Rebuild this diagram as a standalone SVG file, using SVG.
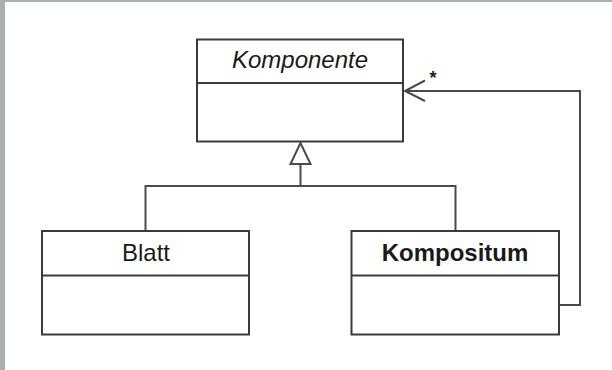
<svg xmlns="http://www.w3.org/2000/svg" width="612" height="370" viewBox="0 0 612 370">
  <style>
    .box { fill: #ffffff; stroke: #3a3a3a; stroke-width: 2; }
    .div { stroke: #3a3a3a; stroke-width: 2; fill: none; }
    .edge { stroke: #4a4a4a; stroke-width: 2; fill: none; }
    .lbl { font-family: "Liberation Sans", Arial, sans-serif; font-size: 24px; fill: #1a1a1a; text-anchor: middle; }
  </style>
  <rect x="0" y="0" width="612" height="370" fill="#ffffff"/>
  <rect x="0" y="0" width="612" height="2" fill="#a9b0af"/>
  <rect x="0" y="0" width="5" height="370" fill="#a9b0af"/>

  <g id="connectors">
    <path class="edge" d="M300.5,164 V186 M145.5,231 V186 H455.5 V231"/>
    <polygon points="300.5,143 290.5,164 310.5,164" fill="#ffffff" stroke="#4a4a4a" stroke-width="2"/>
    <path class="edge" d="M559,305 H580 V91 H405"/>
    <path class="edge" d="M425,80.5 L405,91 L425,101"/>
    <text x="433" y="84" font-family="Liberation Sans, Arial, sans-serif" font-size="18" font-weight="bold" fill="#222" text-anchor="middle">*</text>
  </g>

  <g id="komponente">
    <rect class="box" x="197" y="39.5" width="206" height="102"/>
    <line class="div" x1="197" y1="83" x2="403" y2="83"/>
    <text class="lbl" x="300" y="68" font-style="italic">Komponente</text>
  </g>

  <g id="blatt">
    <rect class="box" x="42" y="231" width="207" height="103.5"/>
    <line class="div" x1="42" y1="275.5" x2="249" y2="275.5"/>
    <text class="lbl" x="146" y="261">Blatt</text>
  </g>

  <g id="kompositum">
    <rect class="box" x="351.5" y="231" width="207.5" height="103.5"/>
    <line class="div" x1="351.5" y1="275.5" x2="559" y2="275.5"/>
    <text class="lbl" x="455" y="261" font-weight="bold">Kompositum</text>
  </g>
</svg>
